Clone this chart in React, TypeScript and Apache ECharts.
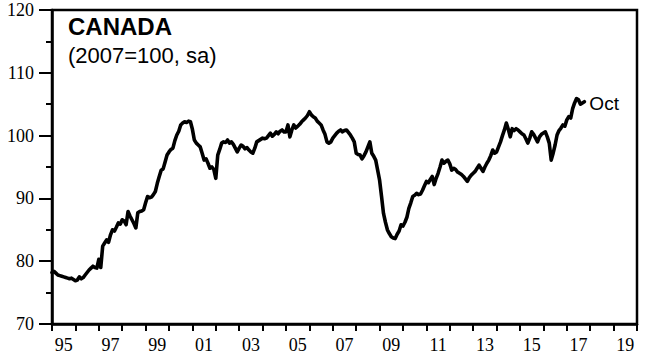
import React, { useEffect, useRef } from "react";
import * as echarts from "echarts";

// Monthly index values (2007=100, sa), Jan..Dec of each year
const y1995 = [78.2, 78.4, 78.1, 77.8, 77.7, 77.6, 77.5, 77.4, 77.3, 77.2, 77.3, 77.1];
const y1996 = [76.9, 77.0, 77.5, 77.2, 77.4, 77.8, 78.2, 78.6, 78.9, 79.2, 79.0, 78.9];
const y1997 = [80.3, 79.0, 82.4, 82.9, 83.4, 83.0, 84.2, 85.0, 84.8, 85.4, 86.1, 85.9];
const y1998 = [86.6, 86.4, 85.8, 87.9, 87.2, 86.6, 86.0, 85.3, 87.7, 87.9, 88.0, 88.2];
const y1999 = [89.3, 90.3, 90.1, 90.2, 90.6, 91.1, 92.4, 93.5, 94.5, 94.7, 95.8, 96.9];
const y2000 = [97.4, 97.8, 98.0, 99.2, 100.1, 100.7, 101.7, 102.0, 102.2, 102.1, 102.3, 102.2];
const y2001 = [101.0, 99.3, 98.8, 98.5, 98.2, 97.2, 96.1, 96.3, 95.6, 94.8, 95.0, 94.6];
const y2002 = [93.2, 96.9, 97.8, 98.8, 99.0, 98.9, 99.3, 98.8, 99.0, 98.6, 98.0, 97.4];
const y2003 = [98.0, 98.5, 98.3, 97.9, 98.1, 97.7, 97.4, 97.2, 98.0, 99.0, 99.2, 99.4];
const y2004 = [99.6, 99.5, 99.6, 100.0, 100.4, 99.9, 100.2, 100.6, 100.3, 100.7, 100.9, 100.6];
const y2005 = [100.6, 101.7, 99.8, 100.9, 101.7, 101.2, 101.5, 101.8, 102.2, 102.5, 102.8, 103.2];
const y2006 = [103.8, 103.3, 103.0, 102.8, 102.3, 102.0, 101.7, 100.9, 100.2, 99.0, 98.8, 99.0];
const y2007 = [99.6, 100.0, 100.4, 100.7, 100.9, 100.6, 100.8, 100.9, 100.5, 100.1, 99.6, 99.0];
const y2008 = [97.2, 97.0, 96.9, 96.3, 96.8, 97.4, 98.2, 99.0, 97.2, 96.7, 96.1, 94.5];
const y2009 = [92.9, 90.3, 87.6, 86.2, 85.0, 84.4, 83.9, 83.7, 83.6, 84.3, 84.8, 85.8];
const y2010 = [85.6, 86.2, 87.0, 88.4, 89.3, 90.3, 90.5, 90.8, 90.6, 90.7, 91.3, 92.0];
const y2011 = [92.7, 92.5, 93.0, 93.5, 92.2, 93.2, 94.0, 95.0, 96.1, 95.6, 95.9, 96.1];
const y2012 = [95.5, 94.5, 94.8, 94.6, 94.2, 94.0, 93.8, 93.5, 93.1, 92.7, 93.3, 93.7];
const y2013 = [94.0, 94.3, 94.8, 95.3, 94.8, 94.3, 95.0, 95.6, 96.1, 96.8, 97.7, 97.2];
const y2014 = [97.4, 98.2, 99.0, 100.0, 100.9, 102.0, 101.0, 99.8, 101.1, 100.8, 101.1, 100.9];
const y2015 = [100.6, 100.3, 100.1, 99.5, 98.8, 99.6, 100.6, 100.2, 99.6, 99.0, 99.8, 100.2];
const y2016 = [100.4, 100.6, 99.8, 98.8, 96.1, 97.2, 98.5, 100.1, 100.8, 101.2, 101.7, 101.5];
const y2017 = [102.5, 103.0, 102.8, 104.3, 105.2, 105.9, 105.7, 105.0, 105.2, 105.4];

const startYear = 1995;
const yearlySeries = [
  y1995, y1996, y1997, y1998, y1999, y2000, y2001, y2002, y2003, y2004, y2005, y2006,
  y2007, y2008, y2009, y2010, y2011, y2012, y2013, y2014, y2015, y2016, y2017,
];

const yearLabels = [
  "95", "96", "97", "98", "99", "00", "01", "02", "03", "04", "05", "06", "07",
  "08", "09", "10", "11", "12", "13", "14", "15", "16", "17", "18", "19",
];

const title = "CANADA";
const subtitle = "(2007=100, sa)";
const endLabel = "Oct";

export default function App() {
  const ref = useRef<HTMLDivElement>(null);

  useEffect(() => {
    if (!ref.current) return;
    const chart = echarts.init(ref.current, null, { renderer: "svg" });

    const points: [number, number][] = [];
    yearlySeries.forEach((arr, yi) => {
      arr.forEach((v, m) => {
        points.push([startYear + yi + m / 12, v]);
      });
    });

    const serif = "'Liberation Serif', 'Times New Roman', serif";
    const sans = "'Liberation Sans', Arial, sans-serif";

    chart.setOption({
      animation: false,
      backgroundColor: "#fff",
      grid: {
        left: 52,
        right: 13,
        top: 10,
        bottom: 32,
        show: true,
        borderColor: "#000",
        borderWidth: 2.5,
      },
      graphic: [
        {
          type: "text",
          left: 68,
          top: 14,
          style: { text: title, font: `bold 24px ${sans}`, fill: "#000" },
        },
        {
          type: "text",
          left: 68,
          top: 44,
          style: { text: subtitle, font: `22px ${sans}`, fill: "#000" },
        },
      ],
      xAxis: [
        {
          type: "category",
          data: yearLabels,
          boundaryGap: true,
          position: "bottom",
          axisLine: { show: true, lineStyle: { color: "#000", width: 2.5 } },
          axisTick: {
            show: true,
            alignWithLabel: false,
            interval: 0,
            length: 7,
            lineStyle: { color: "#000", width: 2 },
          },
          axisLabel: {
            interval: 1,
            margin: 12,
            color: "#000",
            fontFamily: serif,
            fontSize: 18,
          },
          splitLine: { show: false },
        },
        {
          type: "value",
          min: 1995,
          max: 2020,
          show: false,
        },
      ],
      yAxis: {
        type: "value",
        min: 70,
        max: 120,
        interval: 10,
        axisLine: { show: true, lineStyle: { color: "#000", width: 2.5 } },
        axisTick: { show: true, length: 13, lineStyle: { color: "#000", width: 2 } },
        minorTick: { show: true, splitNumber: 2, length: 6, lineStyle: { color: "#000", width: 2 } },
        axisLabel: { margin: 18, color: "#000", fontFamily: serif, fontSize: 18 },
        splitLine: { show: false },
        minorSplitLine: { show: false },
      },
      series: [
        {
          type: "line",
          xAxisIndex: 1,
          data: points,
          showSymbol: false,
          lineStyle: { color: "#000", width: 3.6, cap: "round", join: "round" },
          endLabel: {
            show: true,
            formatter: endLabel,
            distance: 5,
            color: "#000",
            fontFamily: sans,
            fontSize: 19,
            offset: [0, 2],
          },
        },
      ],
    });

    return () => chart.dispose();
  }, []);

  return <div ref={ref} style={{ width: 650, height: 356, position: "absolute", left: 0, top: 0 }} />;
}
